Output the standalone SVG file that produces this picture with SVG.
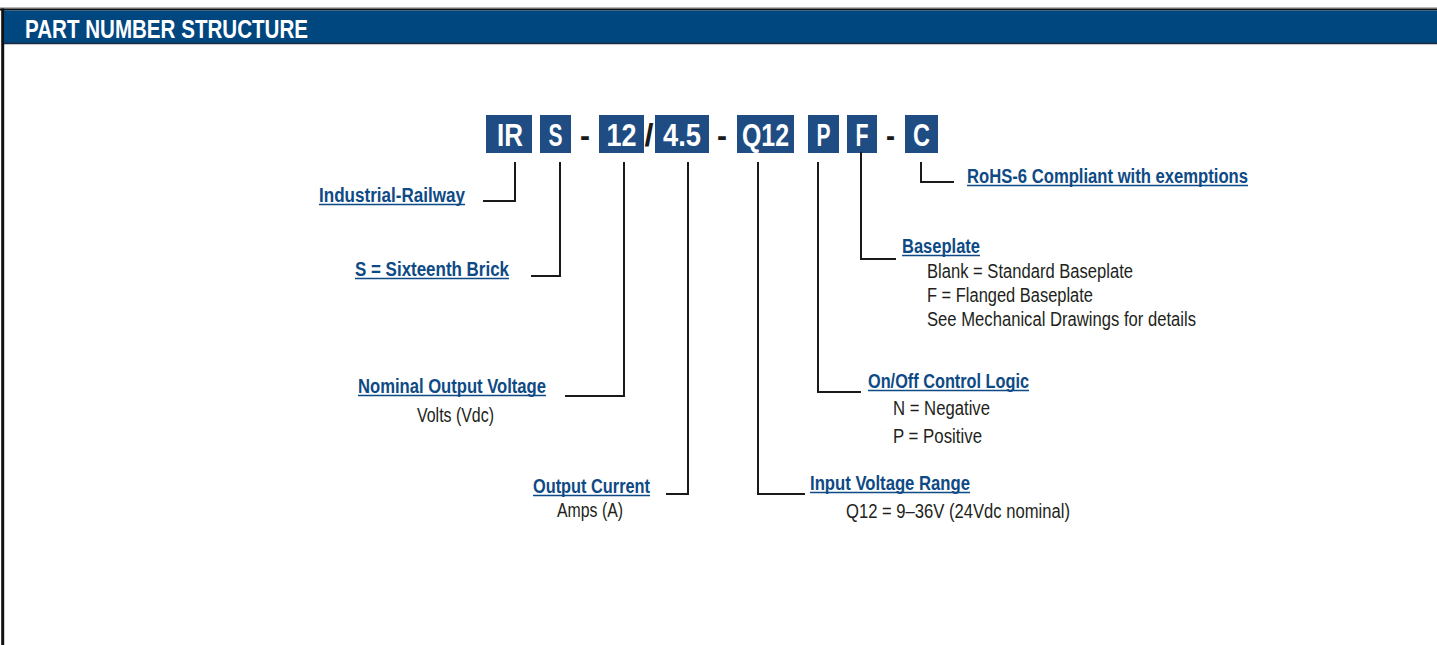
<svg xmlns="http://www.w3.org/2000/svg" width="1437" height="645" viewBox="0 0 1437 645">
<style>
.box{fill:#1f4c83}
.code{font-family:"Liberation Sans Narrow","Liberation Sans",Arial,sans-serif;font-weight:bold;font-size:32px;fill:#ffffff;text-anchor:middle}
.sep{font-family:"Liberation Sans Narrow","Liberation Sans",Arial,sans-serif;font-weight:bold;font-size:32px;fill:#1a1a1a;text-anchor:middle}
.title{font-family:"Liberation Sans Narrow","Liberation Sans",Arial,sans-serif;font-weight:bold;font-size:20px;fill:#0e4a85}
.ul{stroke:#0e4a85;stroke-width:1.3}
.body{font-family:"Liberation Sans Narrow","Liberation Sans",Arial,sans-serif;font-size:19.5px;fill:#231f20}
.conn{fill:none;stroke:#1a1a1a;stroke-width:2}
</style>
<rect x="0" y="0" width="1437" height="645" fill="#ffffff"/>
<!-- frame and header -->
<line x1="0" y1="7.8" x2="1437" y2="7.8" stroke="#a0a0a0" stroke-width="1.2"/>
<line x1="0" y1="9.6" x2="1437" y2="9.6" stroke="#111111" stroke-width="2"/>
<line x1="2.7" y1="8.5" x2="2.7" y2="645" stroke="#111111" stroke-width="3"/>
<rect x="4" y="10.5" width="1433" height="33" fill="#00467f"/>
<line x1="4" y1="43.6" x2="1437" y2="43.6" stroke="#1c2a40" stroke-width="1.5"/>
<text x="25" y="37.5" font-family="'Liberation Sans Narrow','Liberation Sans',Arial,sans-serif" font-weight="bold" font-size="26" fill="#ffffff" textLength="283" lengthAdjust="spacingAndGlyphs">PART NUMBER STRUCTURE</text>

<!-- part number code -->
<g id="code-IR"><rect class="box" x="486" y="115" width="46" height="38"/><text class="code" x="510" y="145.5" textLength="26" lengthAdjust="spacingAndGlyphs">IR</text></g>
<g id="code-S"><rect class="box" x="540" y="115" width="31" height="38"/><text class="code" x="555.5" y="145.5" textLength="14" lengthAdjust="spacingAndGlyphs">S</text></g>
<g id="sep-1"><text class="sep" x="585" y="145.5" textLength="10" lengthAdjust="spacingAndGlyphs">-</text></g>
<g id="code-12"><rect class="box" x="599" y="115" width="45" height="38"/><text class="code" x="621.5" y="145.5" textLength="30" lengthAdjust="spacingAndGlyphs">12</text></g>
<g id="sep-slash"><text class="sep" x="649" y="145.5" textLength="9" lengthAdjust="spacingAndGlyphs">/</text></g>
<g id="code-4.5"><rect class="box" x="655" y="115" width="54" height="38"/><text class="code" x="682" y="145.5" textLength="38" lengthAdjust="spacingAndGlyphs">4.5</text></g>
<g id="sep-2"><text class="sep" x="722" y="145.5" textLength="10" lengthAdjust="spacingAndGlyphs">-</text></g>
<g id="code-Q12"><rect class="box" x="737" y="115" width="57" height="38"/><text class="code" x="765.5" y="145.5" textLength="47" lengthAdjust="spacingAndGlyphs">Q12</text></g>
<g id="code-P"><rect class="box" x="808" y="115" width="31" height="38"/><text class="code" x="823.5" y="145.5" textLength="14" lengthAdjust="spacingAndGlyphs">P</text></g>
<g id="code-F"><rect class="box" x="847" y="115" width="30" height="38"/><text class="code" x="862" y="145.5" textLength="13" lengthAdjust="spacingAndGlyphs">F</text></g>
<g id="sep-3"><text class="sep" x="890.5" y="145.5" textLength="9" lengthAdjust="spacingAndGlyphs">-</text></g>
<g id="code-C"><rect class="box" x="905" y="115" width="33" height="38"/><text class="code" x="921.5" y="145.5" textLength="17" lengthAdjust="spacingAndGlyphs">C</text></g>

<!-- connectors -->
<g id="connectors">
<polyline class="conn" points="515,162 515,201 483,201"/>
<polyline class="conn" points="560,162 560,276 531,276"/>
<polyline class="conn" points="624,162 624,396 565,396"/>
<polyline class="conn" points="688,162 688,494 666,494"/>
<polyline class="conn" points="758,162 758,494 805,494"/>
<polyline class="conn" points="818,162 818,392 861,392"/>
<polyline class="conn" points="861,152 861,259 896,259"/>
<polyline class="conn" points="921,162 921,182 954,182"/>
</g>

<!-- labels -->
<g id="label-industrial">
<text class="title" x="319" y="201.5" textLength="146" lengthAdjust="spacingAndGlyphs">Industrial-Railway</text>
<line class="ul" x1="319" y1="204.5" x2="465" y2="204.5"/>
</g>
<g id="label-sixteenth">
<text class="title" x="355" y="275.5" textLength="154" lengthAdjust="spacingAndGlyphs">S = Sixteenth Brick</text>
<line class="ul" x1="355" y1="278.5" x2="509" y2="278.5"/>
</g>
<g id="label-voltage">
<text class="title" x="358" y="392.5" textLength="188" lengthAdjust="spacingAndGlyphs">Nominal Output Voltage</text>
<line class="ul" x1="358" y1="395.5" x2="546" y2="395.5"/>
<text class="body" x="417" y="421.5" textLength="77" lengthAdjust="spacingAndGlyphs">Volts (Vdc)</text>
</g>
<g id="label-current">
<text class="title" x="533" y="492.5" textLength="117" lengthAdjust="spacingAndGlyphs">Output Current</text>
<line class="ul" x1="533" y1="495.5" x2="650" y2="495.5"/>
<text class="body" x="557" y="516.5" textLength="66" lengthAdjust="spacingAndGlyphs">Amps (A)</text>
</g>
<g id="label-input">
<text class="title" x="810" y="489.5" textLength="160" lengthAdjust="spacingAndGlyphs">Input Voltage Range</text>
<line class="ul" x1="810" y1="492.5" x2="970" y2="492.5"/>
<text class="body" x="846" y="517.5" textLength="224" lengthAdjust="spacingAndGlyphs">Q12 = 9–36V (24Vdc nominal)</text>
</g>
<g id="label-onoff">
<text class="title" x="868" y="387.5" textLength="161" lengthAdjust="spacingAndGlyphs">On/Off Control Logic</text>
<line class="ul" x1="868" y1="390.5" x2="1029" y2="390.5"/>
<text class="body" x="893" y="414.5" textLength="97" lengthAdjust="spacingAndGlyphs">N = Negative</text>
<text class="body" x="893" y="442.5" textLength="89" lengthAdjust="spacingAndGlyphs">P = Positive</text>
</g>
<g id="label-baseplate">
<text class="title" x="902" y="252.5" textLength="78" lengthAdjust="spacingAndGlyphs">Baseplate</text>
<line class="ul" x1="902" y1="255.5" x2="980" y2="255.5"/>
<text class="body" x="927" y="277.5" textLength="206" lengthAdjust="spacingAndGlyphs">Blank = Standard Baseplate</text>
<text class="body" x="927" y="301.5" textLength="166" lengthAdjust="spacingAndGlyphs">F = Flanged Baseplate</text>
<text class="body" x="927" y="325.5" textLength="269" lengthAdjust="spacingAndGlyphs">See Mechanical Drawings for details</text>
</g>
<g id="label-rohs">
<text class="title" x="967" y="182.5" textLength="281" lengthAdjust="spacingAndGlyphs">RoHS-6 Compliant with exemptions</text>
<line class="ul" x1="967" y1="185.5" x2="1248" y2="185.5"/>
</g>
</svg>
